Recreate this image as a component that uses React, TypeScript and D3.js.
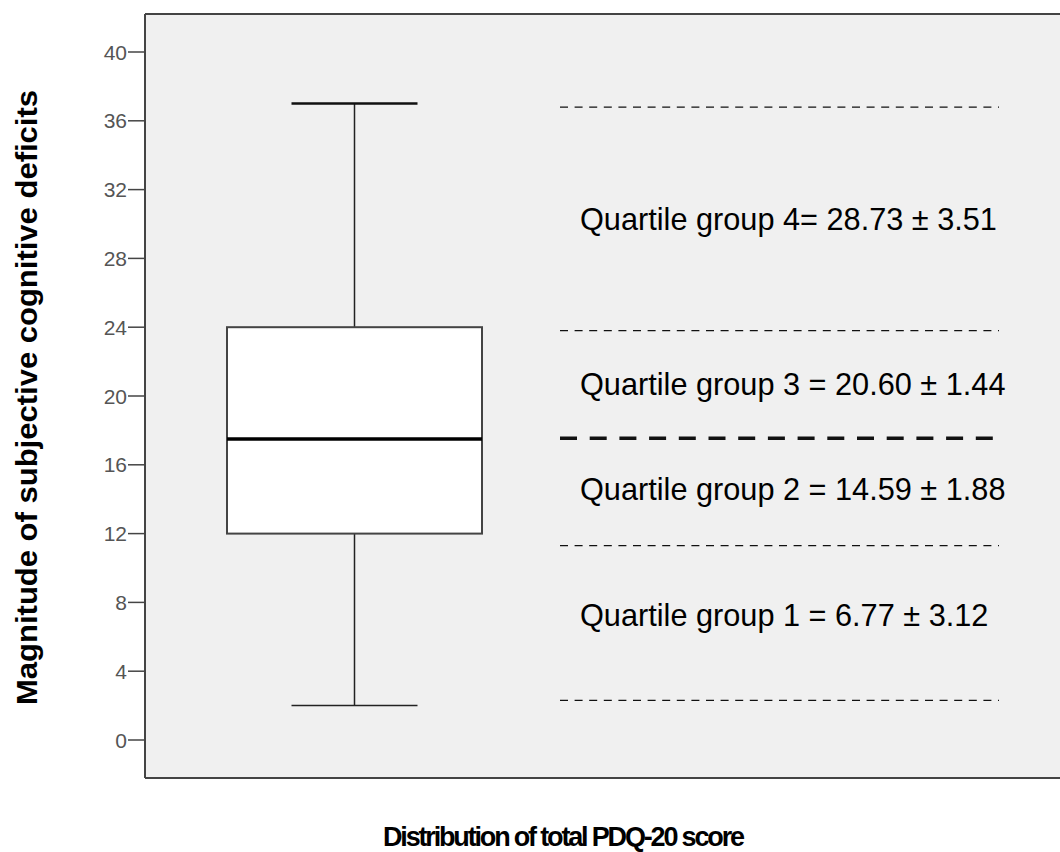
import * as d3 from 'd3'

// summary values for the box
const boxStats = { min: 2, q1: 12, median: 17.5, q3: 24, max: 37 }
const yTicks = [0, 4, 8, 12, 16, 20, 24, 28, 32, 36, 40]
// dashed reference lines (value, bold?)
const cutLines = [36.8, 23.8, 17.55, 11.3, 2.3]
const boldCut = [false, false, true, false, false]
const groupLabels = [
  'Quartile group 4= 28.73 ± 3.51',
  'Quartile group 3 = 20.60 ± 1.44',
  'Quartile group 2 = 14.59 ± 1.88',
  'Quartile group 1 = 6.77 ± 3.12',
]
// baseline position of each label, in axis units
const labelValues = [29.65, 20.05, 13.95, 6.65]

const W = 1060
const H = 852
const font = '"Liberation Sans", Arial, sans-serif'

export default function App() {
  const left = 145
  const top = 14
  const bottom = 778
  const y = d3.scaleLinear().domain([0, 40]).range([740, 52])
  const xCenter = 354.5
  const boxHalf = 127.5
  const capHalf = 63

  return (
    <svg width={W} height={H} style={{ position: 'absolute', left: 0, top: 0, background: '#fff' }}>
      {/* plot background */}
      <rect x={left} y={top} width={W - left + 5} height={bottom - top} fill="#f0f0f0" />
      <line x1={left} x2={W} y1={top} y2={top} stroke="#444" strokeWidth={2} />
      <line x1={left} x2={W} y1={bottom} y2={bottom} stroke="#444" strokeWidth={2} />
      <line x1={left} x2={left} y1={top} y2={bottom} stroke="#444" strokeWidth={2} />

      {/* y ticks */}
      {yTicks.map((t) => (
        <g key={t}>
          <line x1={left - 17} x2={left} y1={y(t)} y2={y(t)} stroke="#444" strokeWidth={1.5} />
          <text
            x={left - 18}
            y={y(t)}
            dy="0.36em"
            textAnchor="end"
            fontFamily={font}
            fontSize={21}
            fill="#555"
          >
            {t}
          </text>
        </g>
      ))}

      {/* whiskers */}
      <line x1={xCenter} x2={xCenter} y1={y(boxStats.max)} y2={y(boxStats.q3)} stroke="#222" strokeWidth={1.5} />
      <line x1={xCenter} x2={xCenter} y1={y(boxStats.q1)} y2={y(boxStats.min)} stroke="#222" strokeWidth={1.5} />
      <line x1={xCenter - capHalf} x2={xCenter + capHalf} y1={y(boxStats.max)} y2={y(boxStats.max)} stroke="#111" strokeWidth={2.5} />
      <line x1={xCenter - capHalf} x2={xCenter + capHalf} y1={y(boxStats.min)} y2={y(boxStats.min)} stroke="#222" strokeWidth={1.5} />

      {/* box */}
      <rect
        x={xCenter - boxHalf}
        y={y(boxStats.q3)}
        width={boxHalf * 2}
        height={y(boxStats.q1) - y(boxStats.q3)}
        fill="#fff"
        stroke="#444"
        strokeWidth={2}
      />
      <line
        x1={xCenter - boxHalf}
        x2={xCenter + boxHalf}
        y1={y(boxStats.median)}
        y2={y(boxStats.median)}
        stroke="#000"
        strokeWidth={3.5}
      />

      {/* dashed cut lines */}
      {cutLines.map((v, i) => (
        <line
          key={i}
          x1={560}
          x2={boldCut[i] ? 993 : 999}
          y1={y(v)}
          y2={y(v)}
          stroke="#111"
          strokeWidth={boldCut[i] ? 3.5 : 1.2}
          strokeDasharray={boldCut[i] ? '17 12.7' : '8 6.6'}
        />
      ))}

      {/* group labels */}
      {groupLabels.map((l, i) => (
        <text key={l} x={580} y={y(labelValues[i])} fontFamily={font} fontSize={30.7} fill="#000">
          {l}
        </text>
      ))}

      {/* axis titles */}
      <text
        transform={`translate(37,${(90 + 705) / 2}) rotate(-90)`}
        textAnchor="middle"
        fontFamily={font}
        fontSize={30}
        fontWeight="bold"
        fill="#000"
        textLength={615}
        lengthAdjust="spacingAndGlyphs"
      >
        Magnitude of subjective cognitive deficits
      </text>
      <text
        x={564}
        y={846}
        textAnchor="middle"
        fontFamily={font}
        fontSize={27}
        fontWeight="bold"
        fill="#000"
        textLength={362}
        lengthAdjust="spacing"
      >
        Distribution of total PDQ-20 score
      </text>
    </svg>
  )
}
